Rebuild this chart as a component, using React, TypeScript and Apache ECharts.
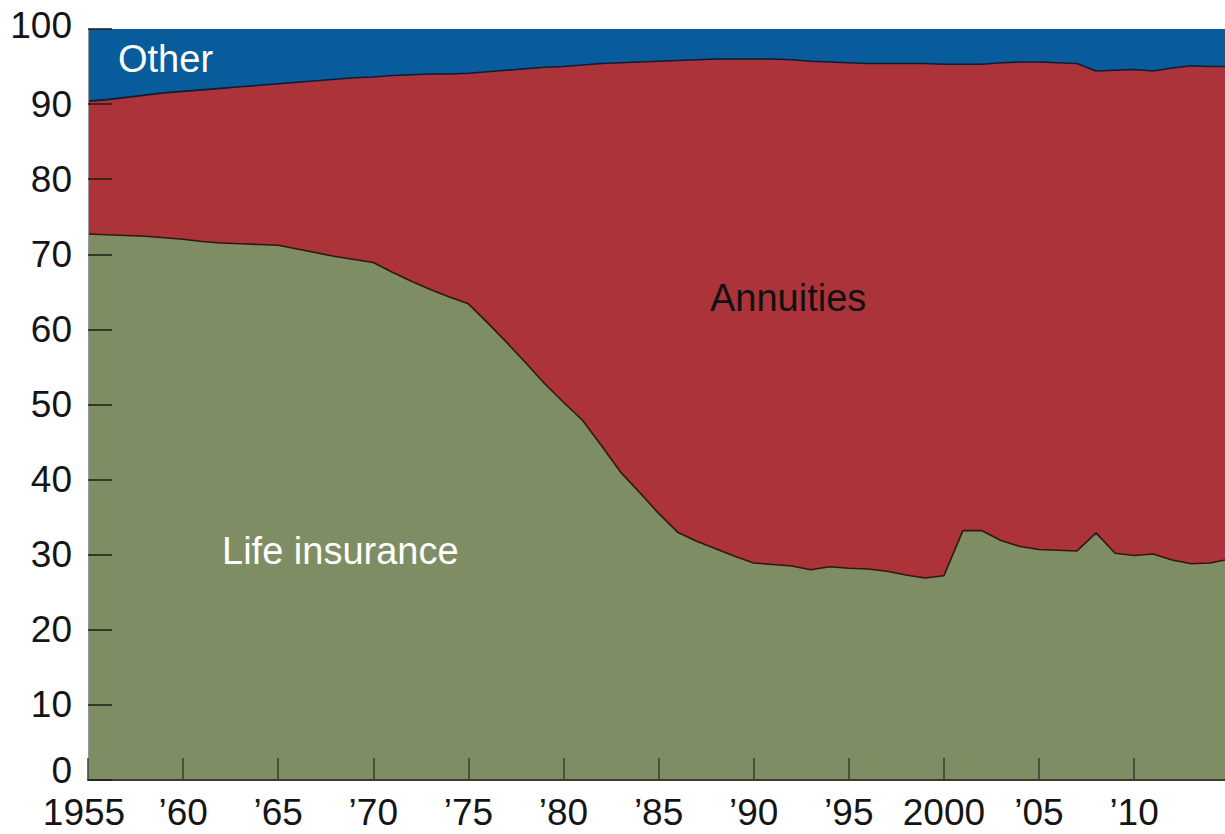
import React, { useEffect, useRef } from "react";
import * as echarts from "echarts";

const years: number[] = [
  1955, 1956, 1957, 1958, 1959, 1960, 1961, 1962, 1963, 1964,
  1965, 1966, 1967, 1968, 1969, 1970, 1971, 1972, 1973, 1974,
  1975, 1976, 1977, 1978, 1979, 1980, 1981, 1982, 1983, 1984,
  1985, 1986, 1987, 1988, 1989, 1990, 1991, 1992, 1993, 1994,
  1995, 1996, 1997, 1998, 1999, 2000, 2001, 2002, 2003, 2004,
  2005, 2006, 2007, 2008, 2009, 2010, 2011, 2012, 2013, 2014, 2015,
];

const lifeInsurance: number[] = [
  72.7, 72.6, 72.5, 72.4, 72.2, 72.0, 71.7, 71.5, 71.4, 71.3,
  71.2, 70.7, 70.2, 69.7, 69.3, 68.9, 67.6, 66.4, 65.3, 64.3,
  63.4, 60.9, 58.3, 55.6, 52.8, 50.3, 47.9, 44.5, 41.0, 38.3,
  35.5, 33.0, 31.8, 30.8, 29.8, 28.9, 28.7, 28.5, 28.0, 28.4,
  28.2, 28.1, 27.8, 27.3, 26.9, 27.2, 33.2, 33.2, 31.9, 31.1,
  30.7, 30.6, 30.5, 32.9, 30.2, 29.9, 30.1, 29.3, 28.8, 28.9, 29.4,
];

const annuities: number[] = [
  17.7, 18.0, 18.4, 18.8, 19.3, 19.7, 20.2, 20.6, 20.9, 21.2,
  21.5, 22.2, 22.9, 23.6, 24.2, 24.7, 26.2, 27.5, 28.7, 29.7,
  30.7, 33.4, 36.2, 39.1, 42.1, 44.7, 47.3, 50.9, 54.5, 57.3,
  60.2, 62.8, 64.1, 65.2, 66.2, 67.1, 67.3, 67.4, 67.7, 67.2,
  67.3, 67.3, 67.6, 68.1, 68.5, 68.1, 62.1, 62.1, 63.6, 64.5,
  64.9, 64.9, 64.9, 61.5, 64.3, 64.7, 64.3, 65.5, 66.3, 66.1, 65.6,
];

const other: number[] = [
  9.6, 9.4, 9.1, 8.8, 8.5, 8.3, 8.1, 7.9, 7.7, 7.5,
  7.3, 7.1, 6.9, 6.7, 6.5, 6.4, 6.2, 6.1, 6.0, 6.0,
  5.9, 5.7, 5.5, 5.3, 5.1, 5.0, 4.8, 4.6, 4.5, 4.4,
  4.3, 4.2, 4.1, 4.0, 4.0, 4.0, 4.0, 4.1, 4.3, 4.4,
  4.5, 4.6, 4.6, 4.6, 4.6, 4.7, 4.7, 4.7, 4.5, 4.4,
  4.4, 4.5, 4.6, 5.6, 5.5, 5.4, 5.6, 5.2, 4.9, 5.0, 5.0,
];

const seriesNames: string[] = ["Life insurance", "Annuities", "Other"];
const yTicks: number[] = [0, 10, 20, 30, 40, 50, 60, 70, 80, 90, 100];

const FONT = '"Liberation Sans", Arial, Helvetica, sans-serif';

function xLabel(v: number): string {
  if (v === 1955) return "{first|1955}";
  if (v === 2000) return "2000";
  if (v > 2014) return "";
  return "\u2019" + String(v).slice(2);
}

function yLabel(v: number): string {
  if (!yTicks.includes(v)) return "";
  if (v === 0) return "{zero|0}";
  if (v === 100) return "{top|100}";
  return String(v);
}

export default function App() {
  const ref = useRef<HTMLDivElement>(null);

  useEffect(() => {
    if (!ref.current) return;
    const chart = echarts.init(ref.current, undefined, { renderer: "svg" });

    // cumulative tops for each band (drawn back-to-front, each filled down to 0)
    const cumLife = lifeInsurance.map((v) => v);
    const cumAnn = lifeInsurance.map((v, i) => +(v + annuities[i]).toFixed(2));
    const cumAll = cumAnn.map((v, i) => +(v + other[i]).toFixed(2));
    const pair = (arr: number[]) => years.map((y, i) => [y, arr[i]]);

    chart.setOption({
      animation: false,
      backgroundColor: "#ffffff",
      grid: { left: 88, right: 0, top: 29, bottom: 54, containLabel: false },
      xAxis: {
        type: "value",
        min: 1955,
        max: 2014.78,
        interval: 5,
        z: 10,
        axisLine: { show: true, lineStyle: { color: "#34402c", width: 2 } },
        axisTick: { show: true, inside: true, length: 22, lineStyle: { color: "#34402c", width: 1.5 } },
        axisLabel: {
          formatter: xLabel,
          fontSize: 37,
          fontFamily: FONT,
          color: "#151515",
          margin: 14,
          showMaxLabel: false,
          rich: {
            first: { fontSize: 37, fontFamily: FONT, color: "#151515", padding: [0, 8, 0, 0] },
          },
        },
        splitLine: { show: false },
      },
      yAxis: {
        type: "value",
        min: 0,
        max: 100,
        interval: 10,
        z: 10,
        axisLine: { show: true, lineStyle: { color: "#9a9a9a", width: 1 } },
        axisTick: { show: true, inside: true, length: 24, lineStyle: { color: "rgba(30,30,20,0.75)", width: 2 } },
        axisLabel: {
          fontSize: 37,
          fontFamily: FONT,
          color: "#151515",
          margin: 16,
          formatter: yLabel,
          rich: {
            zero: { fontSize: 37, fontFamily: FONT, color: "#151515", padding: [0, 0, 20, 0] },
            top: { fontSize: 37, fontFamily: FONT, color: "#151515", padding: [0, 0, 8, 0] },
          },
        },
        splitLine: { show: false },
      },
      series: [
        {
          name: seriesNames[2],
          type: "line",
          z: 3,
          symbol: "none",
          data: pair(cumAll),
          lineStyle: { width: 0, color: "#085c9b" },
          areaStyle: { color: "#085c9b", opacity: 1 },
        },
        {
          name: seriesNames[1],
          type: "line",
          z: 4,
          symbol: "none",
          data: pair(cumAnn),
          lineStyle: { color: "#141a30", width: 1.6 },
          areaStyle: { color: "#ab3339", opacity: 1 },
        },
        {
          name: seriesNames[0],
          type: "line",
          z: 5,
          symbol: "none",
          data: pair(cumLife),
          lineStyle: { color: "#2b1a14", width: 1.6 },
          areaStyle: { color: "#7f8d64", opacity: 1 },
        },
      ],
      graphic: [
        {
          type: "text",
          x: 118,
          y: 59,
          z: 20,
          style: { text: "Other", fill: "#ffffff", font: `38px ${FONT}`, align: "left", verticalAlign: "middle" },
        },
        {
          type: "text",
          x: 710,
          y: 298,
          z: 20,
          style: { text: "Annuities", fill: "#111111", font: `38px ${FONT}`, align: "left", verticalAlign: "middle" },
        },
        {
          type: "text",
          x: 222,
          y: 551,
          z: 20,
          style: { text: "Life insurance", fill: "#ffffff", font: `38px ${FONT}`, align: "left", verticalAlign: "middle" },
        },
      ],
    });

    return () => chart.dispose();
  }, []);

  return (
    <div
      ref={ref}
      style={{ position: "fixed", left: 0, top: 0, width: 1225, height: 834 }}
    />
  );
}
